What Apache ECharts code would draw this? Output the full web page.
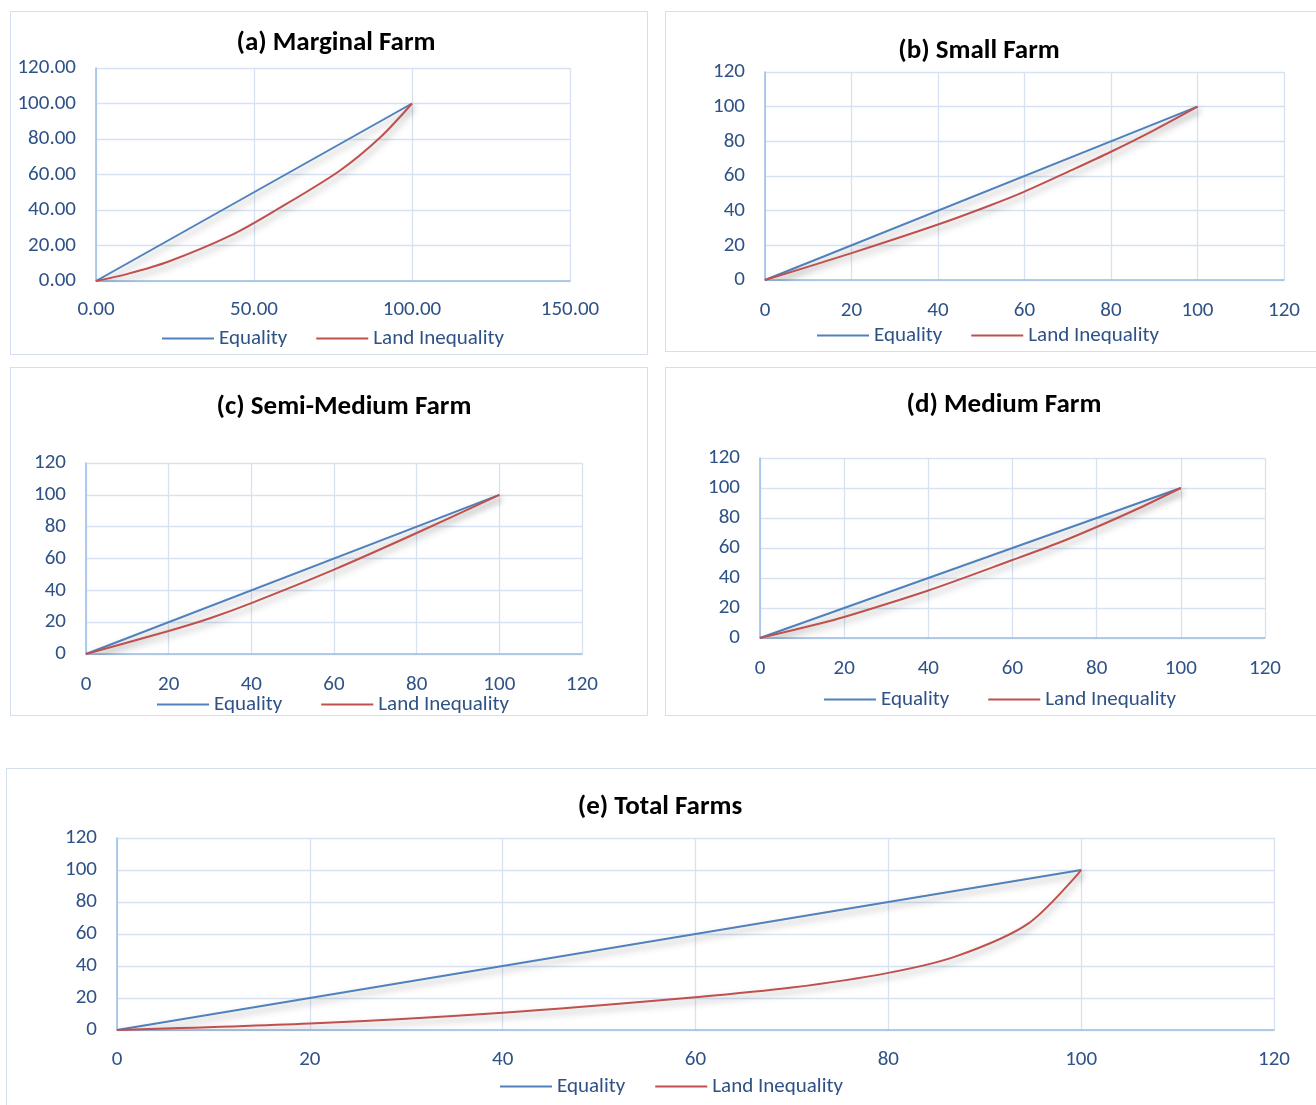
<!DOCTYPE html>
<html><head><meta charset="utf-8">
<script src="https://cdn.jsdelivr.net/npm/echarts@6/dist/echarts.min.js"></script>
<style>
html,body{margin:0;padding:0;background:#fff;width:1316px;height:1105px;overflow:hidden;position:relative}
.panel{position:absolute;border:1.5px solid #d5e0ee;box-sizing:border-box;background:#fff;overflow:hidden}
.chart{position:absolute;left:0;top:0}
</style></head><body>
<div class="panel" style="left:10px;top:11px;width:638px;height:344px"><div id="pa" class="chart" style="width:636px;height:342px"></div></div>
<div class="panel" style="left:665px;top:11px;width:680px;height:341px"><div id="pb" class="chart" style="width:678px;height:339px"></div></div>
<div class="panel" style="left:10px;top:367px;width:638px;height:349px"><div id="pc" class="chart" style="width:636px;height:347px"></div></div>
<div class="panel" style="left:665px;top:367px;width:680px;height:349px"><div id="pd" class="chart" style="width:678px;height:347px"></div></div>
<div class="panel" style="left:6px;top:768px;width:1340px;height:360px"><div id="pe" class="chart" style="width:1338px;height:358px"></div></div>
<script>
// ---- data ----
const seriesNames = ['Equality', 'Land Inequality'];
const equalityLine = [[0, 0], [100, 100]];
const marginalFarm = [[0, 0], [10, 4], [23, 11], [43, 26], [57, 40], [77, 62], [90, 81], [100, 100]];
const smallFarm = [[0, 0], [20, 15.5], [40, 32], [52, 43], [60, 51], [71, 63.5], [80, 74], [90, 86.5], [100, 100]];
const semiMediumFarm = [[0, 0], [20, 14.5], [30, 22.5], [40, 32], [60, 53], [80, 76], [100, 100]];
const mediumFarm = [[0, 0], [14, 9.5], [20, 14], [40, 31.7], [60, 52], [71, 63.5], [80, 74], [90, 86.5], [100, 100]];
const totalFarms = [[0, 0], [20, 4], [40, 10.8], [60, 20.5], [70, 26.5], [80, 35.7], [87, 46], [94.5, 66.5], [100, 100]];
const titles = ['(a) Marginal Farm', '(b) Small Farm', '(c) Semi-Medium Farm', '(d) Medium Farm', '(e) Total Farms'];

const FONT = 'Carlito, "Liberation Sans Narrow", Lato, sans-serif';
const LABEL = '#2f5286';
const BLUE = '#4f81bd', RED = '#c0504d';

function panel(id, cfg) {
  const chart = echarts.init(document.getElementById(id), null, {renderer: 'canvas'});
  const shadow = {shadowColor: 'rgba(0,0,0,0.35)', shadowBlur: 7, shadowOffsetX: 2, shadowOffsetY: 4};
  chart.setOption({
    animation: false,
    textStyle: {fontFamily: FONT},
    title: {
      text: cfg.title, left: cfg.titleX, top: cfg.titleTop, textAlign: 'center',
      textStyle: {fontFamily: FONT, fontWeight: 'bold', fontSize: 27, color: '#000'}
    },
    legend: {
      left: cfg.legendLeft, top: cfg.legendTop, itemGap: cfg.legendGap, padding: 0,
      icon: 'rect', itemWidth: 52, itemHeight: 2,
      textStyle: {fontFamily: FONT, fontSize: 21, color: LABEL},
      data: seriesNames
    },
    grid: {left: cfg.grid[0], top: cfg.grid[1], width: cfg.grid[2], height: cfg.grid[3], containLabel: false},
    xAxis: {
      type: 'value', min: 0, max: cfg.xMax, interval: cfg.xInterval,
      axisLine: {show: true, lineStyle: {color: '#9dbde4', width: 1.5}},
      axisTick: {show: false},
      splitLine: {show: true, lineStyle: {color: '#d6e2f1', width: 1.3}},
      axisLabel: {color: LABEL, fontSize: 21, fontFamily: FONT, margin: cfg.xMargin,
        formatter: v => v.toFixed(cfg.dec)}
    },
    yAxis: {
      type: 'value', min: 0, max: 120, interval: 20,
      axisLine: {show: true, lineStyle: {color: '#9dbde4', width: 1.5}},
      axisTick: {show: false},
      splitLine: {show: true, lineStyle: {color: '#d6e2f1', width: 1.3}},
      axisLabel: {color: LABEL, fontSize: 21, fontFamily: FONT, margin: 20,
        formatter: v => v.toFixed(cfg.dec)}
    },
    series: [
      {name: seriesNames[0], type: 'line', data: equalityLine, symbol: 'none', showSymbol: false,
        lineStyle: Object.assign({color: BLUE, width: 2}, shadow), itemStyle: {color: BLUE}},
      {name: seriesNames[1], type: 'line', data: cfg.data, symbol: 'none', showSymbol: false,
        smooth: 0.3,
        lineStyle: Object.assign({color: RED, width: 2}, shadow), itemStyle: {color: RED}}
    ]
  });
}

panel('pa', {title: titles[0], titleX: 320, titleTop: 13, grid: [85, 56, 474, 213], xMax: 150, xInterval: 50, dec: 2,
  xMargin: 18, legendLeft: 151, legendTop: 316, legendGap: 29, data: marginalFarm});
panel('pb', {title: titles[1], titleX: 308, titleTop: 21, grid: [99, 60, 519, 208], xMax: 120, xInterval: 20, dec: 0,
  xMargin: 20, legendLeft: 151, legendTop: 313, legendGap: 29, data: smallFarm});
panel('pc', {title: titles[2], titleX: 328, titleTop: 21, grid: [75, 95, 496, 191], xMax: 120, xInterval: 20, dec: 0,
  xMargin: 20, legendLeft: 146, legendTop: 326, legendGap: 39, data: semiMediumFarm});
panel('pd', {title: titles[3], titleX: 333, titleTop: 19, grid: [94, 90, 505, 180], xMax: 120, xInterval: 20, dec: 0,
  xMargin: 20, legendLeft: 158, legendTop: 321, legendGap: 39, data: mediumFarm});
panel('pe', {title: titles[4], titleX: 648, titleTop: 20, grid: [110, 69, 1157, 192], xMax: 120, xInterval: 20, dec: 0,
  xMargin: 19, legendLeft: 493, legendTop: 307, legendGap: 30, data: totalFarms});
</script>
</body></html>
